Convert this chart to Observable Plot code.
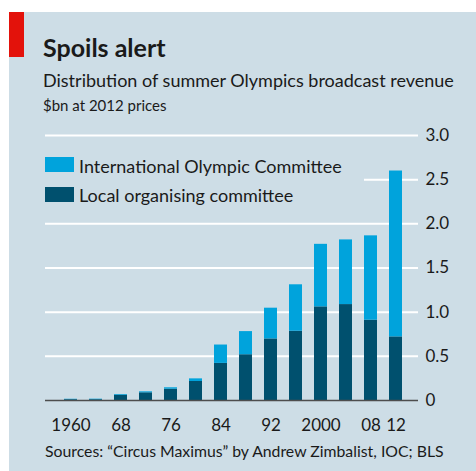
<!DOCTYPE html>
<html>
<head>
<meta charset="utf-8">
<script src="https://cdn.jsdelivr.net/npm/d3@7"></script>
<script src="https://cdn.jsdelivr.net/npm/@observablehq/plot@0.6"></script>
<style>
  html, body { margin: 0; padding: 0; background: #fff; }
  #page { position: relative; width: 476px; height: 471px; overflow: hidden; font-family: Lato, sans-serif; color: #1a1a1a; }
  #bg { position: absolute; left: 9px; top: 12px; right: 0; bottom: 0; background: #cddde6; }
  #red { position: absolute; left: 9px; top: 12px; width: 15px; height: 45px; background: #e3120b; }
  .t { position: absolute; white-space: nowrap; }
  #chart { position: absolute; left: 0; top: 120px; }
  #legend { position: absolute; left: 45px; top: 146px; width: 319px; height: 66px; background: #cddde6; }
  .sw { position: absolute; left: 0; width: 29px; height: 15px; }
</style>
</head>
<body>
<div id="page">
  <div id="bg"></div>
  <div id="red"></div>
  <div class="t" id="title" style="left:43px; top:35px; font-size:25px; line-height:25px; font-weight:700;">Spoils alert</div>
  <div class="t" id="sub" style="left:43px; top:71px; font-size:18px; line-height:18px;">Distribution of summer Olympics broadcast revenue</div>
  <div class="t" id="units" style="left:43px; top:98px; font-size:15px; line-height:15px;">$bn at 2012 prices</div>
  <div id="chart"></div>
  <div id="legend"></div>
  <div class="t" id="source" style="left:45px; top:443px; font-size:15.8px; line-height:16px;"></div>
</div>
<script>
// ---- data ----
const years = ["1960","1964","1968","1972","1976","1980","1984","1988","1992","1996","2000","2004","2008","2012"];
const localValues = [0.009, 0.009, 0.060, 0.087, 0.128, 0.215, 0.420, 0.518, 0.697, 0.784, 1.060, 1.086, 0.909, 0.720];
const iocValues   = [0.005, 0.006, 0.008, 0.011, 0.016, 0.030, 0.208, 0.262, 0.348, 0.526, 0.708, 0.732, 0.955, 1.878];
const seriesNames = ["Local organising committee", "International Olympic Committee"];
const seriesColors = ["#00506e", "#00a3dc"];
const xTickYears = ["1960","1968","1976","1984","1992","2000","2008","2012"];
const xTickLabels = ["1960","68","76","84","92","2000","08","12"];
const yTicks = [0, 0.5, 1.0, 1.5, 2.0, 2.5, 3.0];
const yTickLabels = ["0","0.5","1.0","1.5","2.0","2.5","3.0"];
const sourceText = "Sources: \u201cCircus Maximus\u201d by Andrew Zimbalist, IOC; BLS";

const data = years.flatMap((yr, i) => [
  {year: yr, series: seriesNames[0], value: localValues[i]},
  {year: yr, series: seriesNames[1], value: iocValues[i]}
]);

const chart = Plot.plot({
  width: 476,
  height: 320,
  marginTop: 15,
  marginBottom: 40,
  marginLeft: 45,
  marginRight: 58,
  style: {background: "transparent", fontFamily: "Lato, sans-serif", fontSize: "17px", color: "#1a1a1a", overflow: "visible"},
  x: {type: "band", domain: years, paddingInner: 0.5, paddingOuter: 0.443, align: 0.535, axis: null},
  y: {domain: [0, 3], axis: null},
  color: {domain: seriesNames, range: seriesColors},
  marks: [
    Plot.ruleY(yTicks.filter(d => d > 0), {stroke: "#ffffff", strokeWidth: 2}),
    Plot.barY(data, {x: "year", y: "value", fill: "series", order: seriesNames}),
    Plot.ruleY([0], {stroke: "#4d4d4d", strokeWidth: 1.5}),
    Plot.axisY({anchor: "right", ticks: yTicks, tickSize: 0, tickPadding: 7, label: null,
      tickFormat: d => yTickLabels[yTicks.indexOf(d)], fill: "#1a1a1a"}),
    Plot.axisX({ticks: xTickYears, tickSize: 0, tickPadding: 18, label: null,
      tickFormat: d => xTickLabels[xTickYears.indexOf(d)], fill: "#1a1a1a"})
  ]
});
document.getElementById("chart").appendChild(chart);

// legend (order as in reference: IOC first)
const legend = document.getElementById("legend");
[[1, 11], [0, 40.7]].forEach(([si, top]) => {
  const sw = document.createElement("div");
  sw.className = "sw";
  sw.style.top = top + "px";
  sw.style.background = seriesColors[si];
  legend.appendChild(sw);
  const tx = document.createElement("div");
  tx.className = "t";
  tx.style.left = "34px";
  tx.style.top = (top - 0.5) + "px";
  tx.style.fontSize = "18px";
  tx.style.lineHeight = "18px";
  tx.textContent = seriesNames[si];
  legend.appendChild(tx);
});
document.getElementById("source").textContent = sourceText;
</script>
</body>
</html>
